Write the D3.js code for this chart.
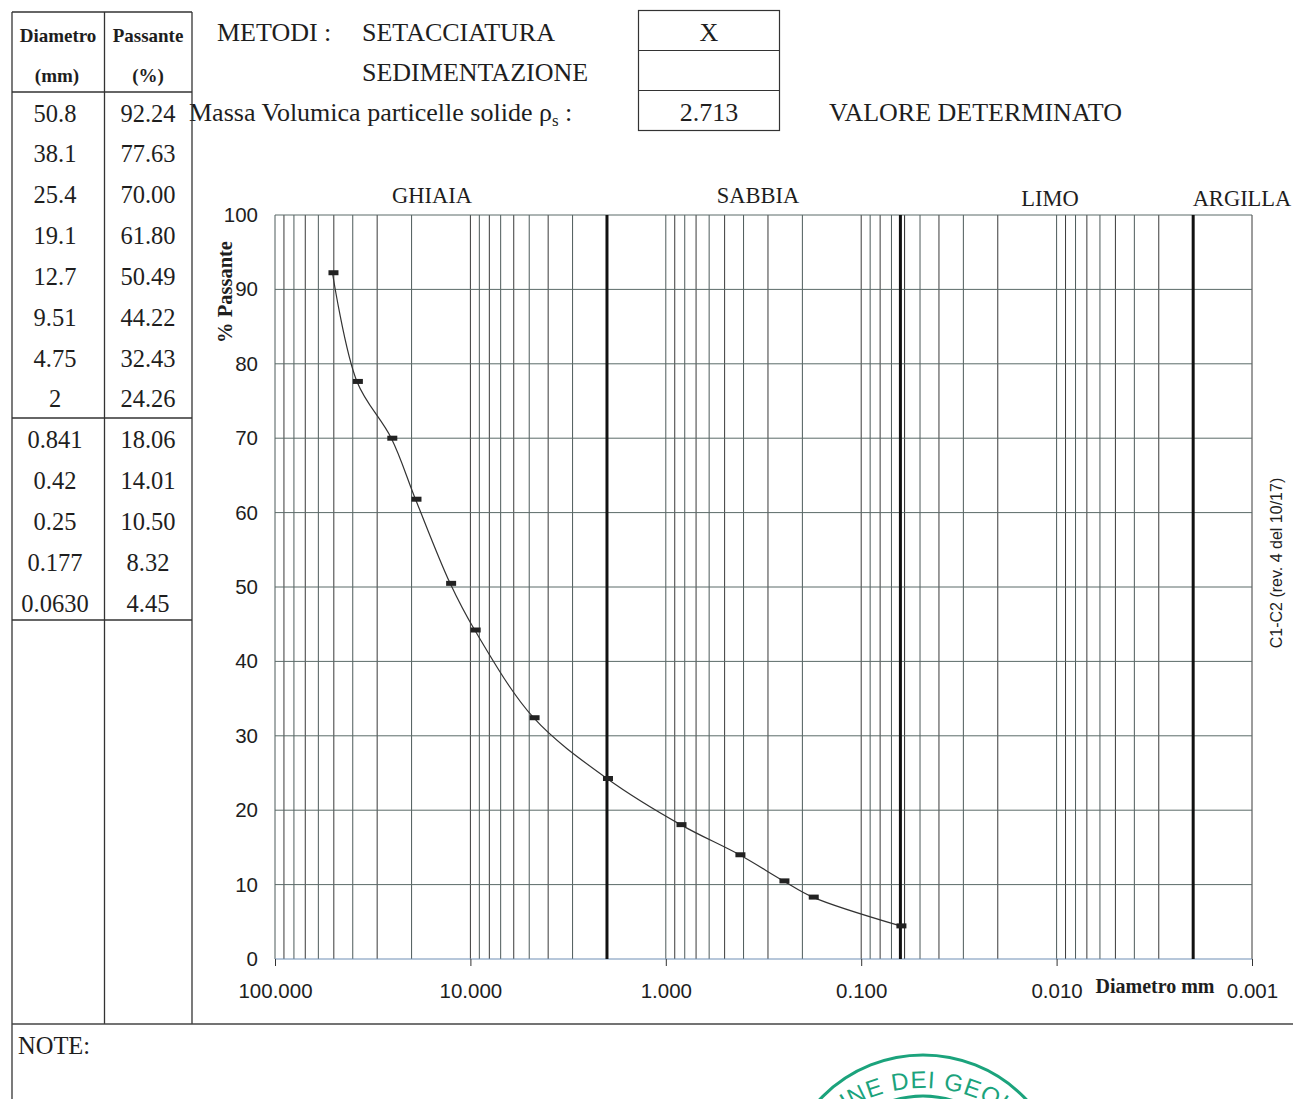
<!DOCTYPE html>
<html>
<head>
<meta charset="utf-8">
<script src="https://cdn.jsdelivr.net/npm/d3@7"></script>
<style>
body { margin: 0; background: #fff; }
.serif { font-family: "Liberation Serif", "Times New Roman", serif; fill: #1e1e1e; }
.sans { font-family: "Liberation Sans", Arial, sans-serif; fill: #1e1e1e; }
</style>
</head>
<body>
<svg width="1293" height="1099"></svg>
<script>
// sieve data (mm, % passing)
var diametro = [50.8, 38.1, 25.4, 19.1, 12.7, 9.51, 4.75, 2, 0.841, 0.42, 0.25, 0.177, 0.063];
var diametroLabels = ['50.8', '38.1', '25.4', '19.1', '12.7', '9.51', '4.75', '2', '0.841', '0.42', '0.25', '0.177', '0.0630'];
var passante = [92.24, 77.63, 70.00, 61.80, 50.49, 44.22, 32.43, 24.26, 18.06, 14.01, 10.50, 8.32, 4.45];

var xTicks = [100, 10, 1, 0.1, 0.01, 0.001];
var xTickLabels = ['100.000', '10.000', '1.000', '0.100', '0.010', '0.001'];
var yTicks = [0, 10, 20, 30, 40, 50, 60, 70, 80, 90, 100];
var limiti = [2, 0.063, 0.002];
var classi = ['GHIAIA', 'SABBIA', 'LIMO', 'ARGILLA'];
var classiX = [432, 758, 1050, 1242];

var svg = d3.select('svg');
var width = +svg.attr('width');
var height = +svg.attr('height');

var plot = {l: 275, r: 1252, t: 215, b: 959};

var xScale = d3.scaleLog().domain([100, 0.001]).range([plot.l, plot.r]);
var yScale = d3.scaleLinear().domain([0, 100]).range([plot.b, plot.t]);

// ---- header ----
var head = svg.append('g').attr('class', 'serif').style('font-size', '26px');
head.append('text').attr('x', 217).attr('y', 32).attr('dy', '0.35em').text('METODI :');
head.append('text').attr('x', 362).attr('y', 32).attr('dy', '0.35em').text('SETACCIATURA');
head.append('text').attr('x', 362).attr('y', 72).attr('dy', '0.35em').text('SEDIMENTAZIONE');
var massa = head.append('text').attr('x', 189).attr('y', 112).attr('dy', '0.35em');
massa.append('tspan').text('Massa Volumica particelle solide \u03C1');
massa.append('tspan').attr('dy', '5').style('font-size', '17px').text('s');
massa.append('tspan').attr('dy', '-5').text(' :');
head.append('text').attr('x', 829).attr('y', 112).attr('dy', '0.35em').text('VALORE DETERMINATO');

var box = svg.append('g');
box.append('rect').attr('x', 638.5).attr('y', 10.5).attr('width', 141).attr('height', 120)
  .attr('fill', 'none').attr('stroke', '#333').attr('stroke-width', 1.2);
[50.5, 90.5].forEach(function(yy) {
  box.append('line').attr('x1', 638.5).attr('x2', 779.5).attr('y1', yy).attr('y2', yy)
    .attr('stroke', '#333').attr('stroke-width', 1.2);
});
head.append('text').attr('x', 709).attr('y', 32).attr('dy', '0.35em').attr('text-anchor', 'middle').text('X');
head.append('text').attr('x', 709).attr('y', 112).attr('dy', '0.35em').attr('text-anchor', 'middle').text('2.713');

// ---- table ----
var tab = svg.append('g');
var colX = [12, 104.5, 192];
tab.append('line').attr('x1', colX[0]).attr('x2', colX[0]).attr('y1', 12).attr('y2', height).attr('stroke', '#333').attr('stroke-width', 1.3);
tab.append('line').attr('x1', colX[1]).attr('x2', colX[1]).attr('y1', 12).attr('y2', 1024).attr('stroke', '#333').attr('stroke-width', 1.3);
tab.append('line').attr('x1', colX[2]).attr('x2', colX[2]).attr('y1', 12).attr('y2', 1024).attr('stroke', '#333').attr('stroke-width', 1.3);
[12, 92, 418, 620].forEach(function(yy) {
  tab.append('line').attr('x1', colX[0]).attr('x2', colX[2]).attr('y1', yy).attr('y2', yy)
    .attr('stroke', '#333').attr('stroke-width', 1.3);
});
tab.append('line').attr('x1', colX[0]).attr('x2', width).attr('y1', 1024).attr('y2', 1024)
  .attr('stroke', '#444').attr('stroke-width', 1.6);

var c1 = 57, c2 = 148;
var th = tab.append('g').attr('class', 'serif').style('font-size', '19px').style('font-weight', 'bold').attr('text-anchor', 'middle');
th.append('text').attr('x', c1 + 1).attr('y', 35).attr('dy', '0.35em').text('Diametro');
th.append('text').attr('x', c2).attr('y', 35).attr('dy', '0.35em').text('Passante');
th.append('text').attr('x', c1).attr('y', 75).attr('dy', '0.35em').text('(mm)');
th.append('text').attr('x', c2).attr('y', 75).attr('dy', '0.35em').text('(%)');

var rowY = d3.scaleLinear().domain([0, 12]).range([113, 603]);
var td = tab.append('g').attr('class', 'serif').style('font-size', '24.5px').attr('text-anchor', 'middle');
td.selectAll('.d').data(diametroLabels).enter().append('text')
  .attr('x', c1 - 2).attr('y', function(d, i) { return rowY(i); }).attr('dy', '0.35em').text(function(d) { return d; });
td.selectAll('.p').data(passante).enter().append('text')
  .attr('x', c2).attr('y', function(d, i) { return rowY(i); }).attr('dy', '0.35em').text(function(d) { return d.toFixed(2); });

svg.append('text').attr('class', 'serif').style('font-size', '24.5px').attr('x', 18).attr('y', 1045).attr('dy', '0.35em').text('NOTE:');

// ---- grid ----
var grid = svg.append('g');
var minor = [];
for (var e = -3; e < 2; e++) {
  for (var k = 1; k < 10; k++) minor.push(k * Math.pow(10, e));
}
minor.push(100);
minor.push(0.06);

grid.selectAll('.vg').data(minor).enter().append('line')
  .attr('x1', function(d) { return xScale(d); }).attr('x2', function(d) { return xScale(d); })
  .attr('y1', plot.t).attr('y2', plot.b)
  .attr('stroke', function(d, i) { return i % 2 ? '#4d5a5a' : '#3a3a3a'; }).attr('stroke-width', 1);

grid.selectAll('.hg').data(yTicks).enter().append('line')
  .attr('x1', plot.l).attr('x2', plot.r)
  .attr('y1', function(d) { return yScale(d); }).attr('y2', function(d) { return yScale(d); })
  .attr('stroke', function(d) { return d === 0 ? '#6f8fb5' : '#5b6b68'; }).attr('stroke-width', 1);

grid.selectAll('.lim').data(limiti).enter().append('line')
  .attr('x1', function(d) { return xScale(d); }).attr('x2', function(d) { return xScale(d); })
  .attr('y1', plot.t).attr('y2', plot.b)
  .attr('stroke', '#111').attr('stroke-width', 3);

// axes
var xAxis = svg.append('g').attr('transform', 'translate(0,' + plot.b + ')')
  .call(d3.axisBottom(xScale).tickValues(xTicks).tickSize(7).tickPadding(17)
    .tickFormat(function(d, i) { return xTickLabels[i]; }));
xAxis.select('.domain').remove();
xAxis.selectAll('line').attr('stroke', '#333');
xAxis.selectAll('text').style('font-size', '20.5px').attr('fill', '#1e1e1e')
  .style('font-family', '"Liberation Sans", Arial, sans-serif');

var yAxis = svg.append('g').attr('transform', 'translate(' + plot.l + ',0)')
  .call(d3.axisLeft(yScale).tickValues(yTicks).tickSize(0).tickPadding(17));
yAxis.select('.domain').remove();
yAxis.selectAll('text').style('font-size', '20.5px').attr('fill', '#1e1e1e')
  .style('font-family', '"Liberation Sans", Arial, sans-serif');

svg.append('text').attr('class', 'serif').style('font-size', '20.5px').style('font-weight', 'bold')
  .attr('text-anchor', 'middle').attr('transform', 'translate(225,292) rotate(-90)').attr('dy', '0.35em')
  .text('% Passante');
svg.append('text').attr('class', 'serif').style('font-size', '20px').style('font-weight', 'bold')
  .attr('x', 1155).attr('y', 986).attr('text-anchor', 'middle').attr('dy', '0.35em').text('Diametro mm');

svg.selectAll('.classe').data(classi).enter().append('text').attr('class', 'serif')
  .style('font-size', '22.5px').attr('text-anchor', 'middle')
  .attr('x', function(d, i) { return classiX[i]; }).attr('y', function(d, i) { return i < 2 ? 195 : 198; }).attr('dy', '0.35em')
  .text(function(d) { return d; });

// ---- curve ----
var pts = diametro.map(function(d, i) { return [xScale(d), yScale(passante[i])]; });
svg.append('path').datum(pts)
  .attr('d', d3.line().curve(d3.curveCatmullRom.alpha(0.5)))
  .attr('fill', 'none').attr('stroke', '#333').attr('stroke-width', 1.2);
svg.selectAll('.mk').data(pts).enter().append('rect')
  .attr('x', function(d) { return d[0] - 4; }).attr('y', function(d) { return d[1] - 2.5; })
  .attr('width', 10).attr('height', 5).attr('fill', '#222');

// side note
svg.append('text').attr('class', 'sans').style('font-size', '16px').attr('fill', '#333')
  .attr('text-anchor', 'middle').attr('transform', 'translate(1276,563) rotate(-90)').attr('dy', '0.35em')
  .text('C1-C2  (rev. 4 del 10/17)');

// stamp
var stamp = svg.append('g').attr('transform', 'translate(923,1197)');
stamp.append('circle').attr('r', 142).attr('fill', 'none').attr('stroke', '#1ba37c').attr('stroke-width', 3);
stamp.append('circle').attr('r', 101).attr('fill', 'none').attr('stroke', '#1ba37c').attr('stroke-width', 3);
stamp.append('path').attr('id', 'arc').attr('fill', 'none')
  .attr('d', 'M -143,34 A 143,143 0 0 1 143,34');
stamp.append('text').style('font-family', '"Liberation Sans", Arial, sans-serif').style('font-size', '24px')
  .attr('fill', '#1ba37c').attr('letter-spacing', '1')
  .append('textPath').attr('href', '#arc').attr('startOffset', '50%').attr('text-anchor', 'middle')
  .text('ORDINE DEI GEOLOGI');
</script>
</body>
</html>
